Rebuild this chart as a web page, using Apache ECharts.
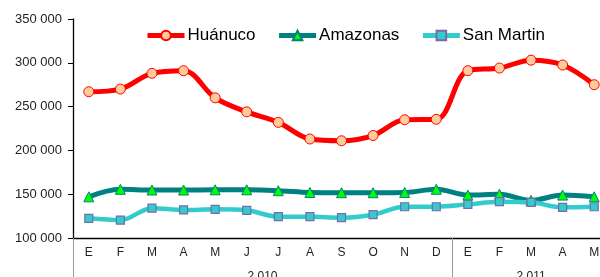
<!DOCTYPE html>
<html>
<head>
<meta charset="utf-8">
<script src="https://cdn.jsdelivr.net/npm/echarts@6/dist/echarts.min.js"></script>
<style>
  html, body { margin: 0; padding: 0; background: #fff; }
  #chart { width: 600px; height: 277px; }
</style>
</head>
<body>
<div id="chart"></div>
<script>
// meses (E = enero ...)
const months = ['E', 'F', 'M', 'A', 'M', 'J', 'J', 'A', 'S', 'O', 'N', 'D', 'E', 'F', 'M', 'A', 'M'];
const years = ['2 010', '2 011'];
const yearMonths = [12, 5];

const huanuco = [267000, 270000, 288000, 291000, 260000, 244000, 232000, 213000, 211000, 217000, 235000, 235500, 291000, 294000, 303000, 297500, 275000];
const amazonas = [147000, 155600, 154800, 154800, 155000, 155000, 154000, 152000, 151700, 151700, 152000, 155600, 149000, 150000, 143000, 149000, 147000];
const sanMartin = [122500, 120500, 134000, 132000, 132700, 131600, 124300, 124300, 123200, 126600, 135700, 135700, 138400, 141500, 140700, 135000, 135700];

// limites y centros de cada año sobre el eje de meses
const yearBounds = [0];
const yearCenters = [];
yearMonths.forEach(n => {
    const start = yearBounds[yearBounds.length - 1];
    yearCenters.push(start + n / 2);
    yearBounds.push(start + n);
});

const fmt = v => String(v).replace(/\B(?=(\d{3})+(?!\d))/g, ' ');

const chart = echarts.init(document.getElementById('chart'));

chart.setOption({
    animation: false,
    textStyle: { fontFamily: 'Liberation Sans, Arial, sans-serif' },
    title: {
        text: '(Toneladas)',
        left: 249,
        top: -26,
        padding: 0,
        textStyle: { fontSize: 26, fontWeight: 'bold', color: '#000', fontFamily: 'Liberation Sans' }
    },
    legend: {
        left: 145,
        top: 27,
        padding: 0,
        itemWidth: 37,
        itemHeight: 12,
        itemGap: 21,
        lineStyle: { width: 5 },
        textStyle: { fontSize: 17, color: '#000', fontFamily: 'Liberation Sans', padding: [0, 0, 0, -2] },
        data: ['Huánuco', 'Amazonas', 'San Martin']
    },
    grid: {
        left: 73,
        top: 19,
        width: 537,
        height: 219,
        containLabel: false,
        outerBoundsMode: 'none'
    },
    xAxis: [
        {
            type: 'category',
            data: months,
            boundaryGap: true,
            axisLine: { lineStyle: { color: '#000', width: 1.3 } },
            axisTick: { show: false },
            axisLabel: { fontSize: 12, color: '#222', margin: 9, interval: 0, fontFamily: 'Liberation Sans' }
        },
        {
            type: 'value',
            min: 0,
            max: months.length,
            position: 'bottom',
            axisLine: { show: false },
            splitLine: { show: false },
            axisTick: {
                show: true,
                customValues: yearBounds,
                length: 39,
                lineStyle: { color: '#999', width: 1 }
            },
            axisLabel: {
                customValues: yearCenters,
                fontSize: 12,
                color: '#222',
                margin: 33,
                fontFamily: 'Liberation Sans',
                formatter: v => years[yearCenters.indexOf(v)] || ''
            }
        }
    ],
    yAxis: {
        type: 'value',
        min: 100000,
        max: 350000,
        interval: 50000,
        axisLine: { show: true, lineStyle: { color: '#000', width: 1.3 } },
        axisTick: { show: true, length: 5, lineStyle: { color: '#000' } },
        splitLine: { show: false },
        axisLabel: { fontSize: 13, color: '#222', margin: 11, fontFamily: 'Liberation Sans', formatter: fmt }
    },
    series: [
        {
            name: 'Huánuco',
            type: 'line',
            data: huanuco,
            smooth: 0.35,
            symbol: 'circle',
            symbolSize: 10,
            lineStyle: { color: '#ff0000', width: 5 },
            itemStyle: { color: '#ffcc99', borderColor: '#ff0000', borderWidth: 1 }
        },
        {
            name: 'Amazonas',
            type: 'line',
            data: amazonas,
            smooth: 0.35,
            symbol: 'triangle',
            symbolSize: 10,
            lineStyle: { color: '#008080', width: 5 },
            itemStyle: { color: '#00ff00', borderColor: '#008080', borderWidth: 1 }
        },
        {
            name: 'San Martin',
            type: 'line',
            data: sanMartin,
            smooth: 0.35,
            symbol: 'rect',
            symbolSize: 8,
            lineStyle: { color: '#33cccc', width: 4.5 },
            itemStyle: { color: '#33cccc', borderColor: '#7a6aa8', borderWidth: 1.2 }
        }
    ]
});
</script>
</body>
</html>
